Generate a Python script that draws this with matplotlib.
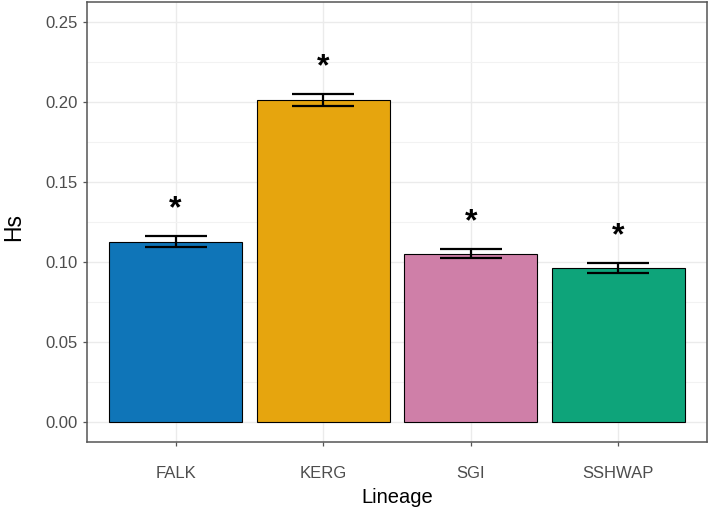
import matplotlib
matplotlib.use("Agg")
import matplotlib.pyplot as plt
import numpy as np
from matplotlib.ticker import MultipleLocator

categories = ["FALK", "KERG", "SGI", "SSHWAP"]
hs_mean = [0.1128, 0.2015, 0.1052, 0.0962]
hs_se = [0.0036, 0.0037, 0.0030, 0.0031]
colors = ["#0F75B8", "#E6A50E", "#CF7FA8", "#0EA47A"]
y_ticks = [0.00, 0.05, 0.10, 0.15, 0.20, 0.25]

plt.rcParams['font.family'] = ['Liberation Sans', 'DejaVu Sans']

fig = plt.figure(figsize=(7.09, 5.13), dpi=100)
ax = fig.add_axes([87/709, 1-442/513, (707-87)/709, (442-2)/513])

x = np.arange(1, len(categories) + 1)
ax.bar(x, hs_mean, width=0.9, color=colors, edgecolor="black", linewidth=0.8, zorder=3)
ax.errorbar(x, hs_mean, yerr=hs_se, fmt="none", ecolor="black", elinewidth=1.6,
            capsize=22, capthick=1.6, zorder=4)
for xi, m, s in zip(x, hs_mean, hs_se):
    ax.text(xi, m + s + 0.0165, "*", ha="center", va="center", fontsize=23,
            fontweight="bold", color="black", zorder=5)

ax.set_xlim(0.4, 4.6)
ax.set_ylim(-0.0125, 0.2625)
ax.set_xticks(x)
ax.set_xticklabels(categories)
ax.set_yticks(y_ticks)
ax.set_yticklabels([f"{v:.2f}" for v in y_ticks])
ax.yaxis.set_minor_locator(MultipleLocator(0.025))

ax.grid(True, which="major", color="#EBEBEB", linewidth=1.0, zorder=0)
ax.grid(True, which="minor", axis="y", color="#F2F2F2", linewidth=0.8, zorder=0)
ax.set_axisbelow(True)

for sp in ax.spines.values():
    sp.set_color("#555555")
    sp.set_linewidth(1.1)

ax.tick_params(axis="both", which="major", length=3, color="#555555", width=0.9)
ax.tick_params(axis="y", which="minor", length=0)
ax.tick_params(axis="y", labelsize=12, labelcolor="#4D4D4D", pad=4)
ax.tick_params(axis="x", labelsize=12, labelcolor="#4D4D4D", pad=14)

ax.set_xlabel("Lineage", fontsize=14.5, color="black", labelpad=5)
fig.text(14/709, 1 - 227/513, "Hs", rotation=90, ha="center", va="center",
         fontsize=16.5, color="black")

fig.savefig("out.png", dpi=100)
